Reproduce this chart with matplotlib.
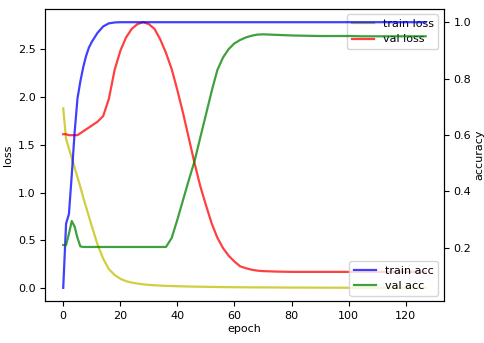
import matplotlib
matplotlib.use('Agg')
import matplotlib.pyplot as plt

# training history, sampled per epoch
epochs = [0, 1, 2, 3, 4, 5, 6, 7, 8, 9, 10, 12, 14, 16, 18, 20, 22, 24, 26, 28,
          30, 32, 34, 36, 38, 40, 42, 44, 46, 48, 50, 52, 54, 56, 58, 60, 62, 64,
          66, 68, 70, 75, 80, 85, 90, 95, 100, 105, 110, 115, 120, 125, 127]

train_loss = [1.88, 1.56, 1.46, 1.36, 1.26, 1.16, 1.06, 0.95, 0.85, 0.75, 0.65,
              0.46, 0.31, 0.20, 0.14, 0.10, 0.075, 0.06, 0.05, 0.042, 0.036,
              0.032, 0.029, 0.026, 0.024, 0.022, 0.021, 0.019, 0.018, 0.017,
              0.016, 0.015, 0.014, 0.013, 0.012, 0.012, 0.011, 0.011, 0.010,
              0.010, 0.010, 0.009, 0.008, 0.008, 0.007, 0.007, 0.006, 0.006,
              0.006, 0.005, 0.005, 0.005, 0.005]

val_loss = [1.61, 1.61, 1.60, 1.60, 1.60, 1.60, 1.62, 1.64, 1.66, 1.68, 1.70,
            1.74, 1.80, 1.98, 2.28, 2.48, 2.62, 2.71, 2.76, 2.78, 2.76, 2.71,
            2.60, 2.46, 2.29, 2.07, 1.83, 1.57, 1.31, 1.07, 0.87, 0.68, 0.53,
            0.42, 0.34, 0.28, 0.23, 0.21, 0.195, 0.185, 0.18, 0.175, 0.172,
            0.172, 0.172, 0.172, 0.172, 0.172, 0.172, 0.172, 0.172, 0.172, 0.172]

train_acc = [0.058, 0.286, 0.32, 0.46, 0.61, 0.73, 0.79, 0.84, 0.88, 0.91, 0.93,
             0.962, 0.985, 0.996, 0.999, 1.0, 1.0, 1.0, 1.0, 1.0, 1.0, 1.0, 1.0,
             1.0, 1.0, 1.0, 1.0, 1.0, 1.0, 1.0, 1.0, 1.0, 1.0, 1.0, 1.0, 1.0,
             1.0, 1.0, 1.0, 1.0, 1.0, 1.0, 1.0, 1.0, 1.0, 1.0, 1.0, 1.0, 1.0,
             1.0, 1.0, 1.0, 1.0]

val_acc = [0.21, 0.21, 0.25, 0.295, 0.275, 0.235, 0.205, 0.203, 0.203, 0.203,
           0.203, 0.203, 0.203, 0.203, 0.203, 0.203, 0.203, 0.203, 0.203, 0.203,
           0.203, 0.203, 0.203, 0.203, 0.235, 0.30, 0.37, 0.44, 0.507, 0.59,
           0.672, 0.755, 0.83, 0.875, 0.905, 0.925, 0.937, 0.946, 0.952, 0.956,
           0.957, 0.955, 0.953, 0.952, 0.951, 0.951, 0.951, 0.950, 0.950, 0.950,
           0.950, 0.950, 0.950]

plt.rcParams['font.size'] = 8

fig, loss_ax = plt.subplots(figsize=(4.85, 3.43), dpi=100)
fig.subplots_adjust(left=0.093, right=0.915, top=0.974, bottom=0.122)
acc_ax = loss_ax.twinx()

# loss on the left axis
loss_ax.plot(epochs, train_loss, 'y', alpha=0.75, lw=1.6, label='train loss')
loss_ax.plot(epochs, val_loss, 'r', alpha=0.75, lw=1.6, label='val loss')

# accuracy on the right axis
acc_ax.plot(epochs, train_acc, 'b', alpha=0.75, lw=1.6, label='train acc')
acc_ax.plot(epochs, val_acc, 'g', alpha=0.75, lw=1.6, label='val acc')

loss_ax.set_xlabel('epoch', labelpad=2)
loss_ax.set_ylabel('loss', labelpad=3)
acc_ax.set_ylabel('accuracy', labelpad=2)

loss_ax.legend(loc='upper right')
acc_ax.legend(loc='lower right')

plt.savefig('out.png')
